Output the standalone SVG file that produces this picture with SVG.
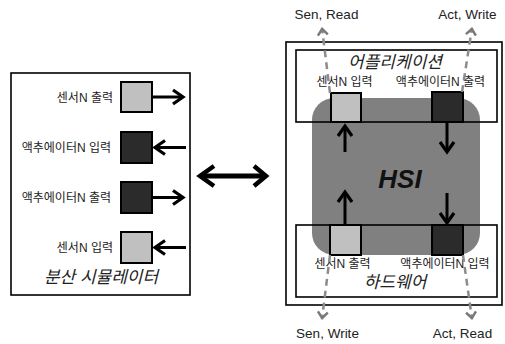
<svg xmlns="http://www.w3.org/2000/svg" width="505" height="344" viewBox="0 0 505 344">
<style>
.box{fill:#fff;stroke:#000;stroke-width:1.6}
.ol{fill:none;stroke:#000;stroke-width:1.6}
.lt{fill:#c0c0c0;stroke:#000;stroke-width:2}
.dk{fill:#2b2b2b;stroke:#000;stroke-width:2}
.t{font-family:"Liberation Sans","Noto Sans CJK KR",sans-serif;font-size:12px;fill:#222}
.ti{font-family:"Liberation Sans","Noto Sans CJK KR",sans-serif;font-size:17px;font-style:italic;fill:#222;text-anchor:middle}
.e{font-family:"Liberation Sans",Arial,sans-serif;font-size:13.5px;fill:#222;text-anchor:middle}
.ar{stroke:#000;stroke-width:3;fill:none;marker-end:url(#ah)}
.dash{stroke:#8c8c8c;stroke-width:2.5;stroke-dasharray:7 5;fill:none;marker-end:url(#gh)}
</style>
<defs>
<marker id="ah" markerUnits="userSpaceOnUse" markerWidth="18" markerHeight="20" viewBox="0 0 18 20" refX="13" refY="10" orient="auto">
<path d="M3,3 L13,10 L3,17" fill="none" stroke="#000" stroke-width="3.2"/>
</marker>
<marker id="ahb" markerUnits="userSpaceOnUse" markerWidth="22" markerHeight="28" viewBox="0 0 22 28" refX="16" refY="14" orient="auto">
<path d="M4,4 L16,14 L4,24" fill="none" stroke="#000" stroke-width="4.5"/>
</marker>
<marker id="gh" markerUnits="userSpaceOnUse" markerWidth="14" markerHeight="14" viewBox="0 0 14 14" refX="10" refY="7" orient="auto">
<path d="M3,2 L9,7 L3,12" fill="none" stroke="#7a7a7a" stroke-width="2.5"/>
</marker>
</defs>

<g id="simulator">
<rect class="box" x="11" y="73" width="179" height="222"/>
<text class="ti" x="101" y="283">분산 시뮬레이터</text>
</g>
<g id="sim-sensor-out">
<rect class="lt" x="121" y="82" width="31" height="30"/>
<text class="t" x="113" y="101.5" text-anchor="end">센서N 출력</text>
</g>
<g id="sim-act-in">
<rect class="dk" x="121" y="132" width="31" height="31"/>
<text class="t" x="111" y="152" text-anchor="end">액추에이터N 입력</text>
</g>
<g id="sim-act-out">
<rect class="dk" x="121" y="182" width="31" height="31"/>
<text class="t" x="111" y="202" text-anchor="end">액추에이터N 출력</text>
</g>
<g id="sim-sensor-in">
<rect class="lt" x="121" y="232" width="31" height="31"/>
<text class="t" x="113" y="252" text-anchor="end">센서N 입력</text>
</g>

<g id="hsi-system">
<rect class="box" x="286" y="42" width="216" height="263"/>
<rect x="296" y="50" width="201" height="72" fill="#fff"/>
<rect x="296" y="225" width="201" height="72" fill="#fff"/>
</g>
<g id="hsi">
<rect x="312" y="98" width="168" height="157" rx="22" ry="22" fill="#808080"/>
<text x="400" y="188" text-anchor="middle" font-family="'Liberation Sans',Arial,sans-serif" font-size="26" font-style="italic" font-weight="bold" fill="#111">HSI</text>
</g>
<g id="application">
<rect class="ol" x="296" y="50" width="201" height="72"/>
<text class="ti" x="395" y="68">어플리케이션</text>
</g>
<g id="app-sensor-in">
<rect class="lt" x="331" y="93" width="30" height="29"/>
<text class="t" x="344.5" y="86" text-anchor="middle">센서N 입력</text>
</g>
<g id="app-act-out">
<rect class="dk" x="432" y="92" width="31" height="30"/>
<text class="t" x="440.5" y="86" text-anchor="middle">액추에이터N 출력</text>
</g>
<g id="hardware">
<rect class="ol" x="296" y="225" width="201" height="72"/>
<text class="ti" x="395" y="288">하드웨어</text>
</g>
<g id="hw-sensor-out">
<rect class="lt" x="330" y="225" width="31" height="30"/>
<text class="t" x="342.5" y="268" text-anchor="middle">센서N 출력</text>
</g>
<g id="hw-act-in">
<rect class="dk" x="432" y="225" width="31" height="30"/>
<text class="t" x="445" y="268" text-anchor="middle">액추에이터N 입력</text>
</g>

<g id="ext-labels">
<text class="e" x="326.5" y="19">Sen, Read</text>
<text class="e" x="467.5" y="19">Act, Write</text>
<text class="e" x="327.5" y="338">Sen, Write</text>
<text class="e" x="462.5" y="338">Act, Read</text>
</g>

<g id="connectors">
<line class="ar" x1="152" y1="97" x2="183" y2="97"/>
<line class="ar" x1="186" y1="147.5" x2="155" y2="147.5"/>
<line class="ar" x1="152" y1="197.5" x2="183" y2="197.5"/>
<line class="ar" x1="186" y1="247.5" x2="155" y2="247.5"/>
<line x1="203" y1="176" x2="266" y2="176" stroke="#000" stroke-width="5" marker-end="url(#ahb)"/>
<path d="M214,166 L200,176 L214,186" fill="none" stroke="#000" stroke-width="4.5"/>
<line class="ar" x1="345" y1="152" x2="345" y2="126"/>
<line class="ar" x1="345" y1="224" x2="345" y2="192"/>
<line class="ar" x1="447" y1="122" x2="447" y2="152"/>
<line class="ar" x1="447" y1="193" x2="447" y2="223"/>
<line class="dash" x1="330" y1="93" x2="322" y2="28"/>
<line class="dash" x1="462" y1="92" x2="472" y2="28"/>
<line class="dash" x1="330" y1="255" x2="322" y2="319"/>
<line class="dash" x1="463" y1="255" x2="472" y2="319"/>
</g>
</svg>
